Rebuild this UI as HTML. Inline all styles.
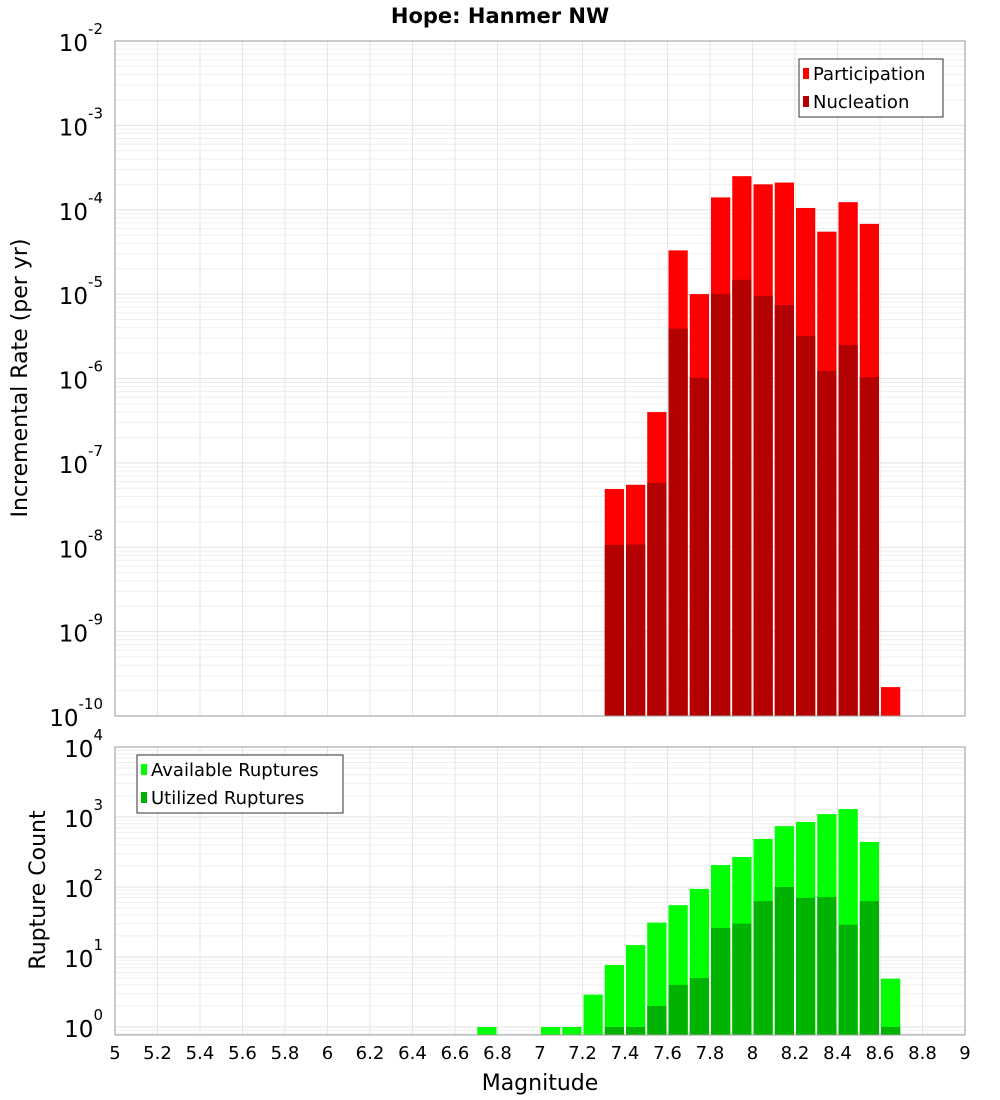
<!DOCTYPE html>
<html><head><meta charset="utf-8"><style>
html,body{margin:0;padding:0;background:#fff;}
svg{display:block;font-family:"DejaVu Sans","Liberation Sans",sans-serif;}
</style></head><body>
<svg id="chart" width="1000" height="1100" viewBox="0 0 1000 1100" xmlns="http://www.w3.org/2000/svg">
<text x="500" y="23" text-anchor="middle" font-size="21" font-weight="bold">Hope: Hanmer NW</text>
<g id="top"></g><g id="bot"></g>
<text transform="translate(27,378) rotate(-90)" text-anchor="middle" font-size="22">Incremental Rate (per yr)</text>
<text transform="translate(45,890) rotate(-90)" text-anchor="middle" font-size="22">Rupture Count</text>
<text x="540" y="1090" text-anchor="middle" font-size="22">Magnitude</text>
</svg>
<script>
const mags = [6.75,7.05,7.15,7.25,7.35,7.45,7.55,7.65,7.75,7.85,7.95,8.05,8.15,8.25,8.35,8.45,8.55,8.65];
const participation = [0,0,0,0,4.9e-8,5.5e-8,4.0e-7,3.3e-5,1.0e-5,1.4e-4,2.5e-4,2.0e-4,2.1e-4,1.05e-4,5.5e-5,1.23e-4,6.8e-5,2.2e-10];
const nucleation = [0,0,0,0,1.07e-8,1.08e-8,5.8e-8,3.9e-6,1.02e-6,1.0e-5,1.48e-5,9.5e-6,7.4e-6,3.2e-6,1.23e-6,2.5e-6,1.04e-6,0];
const available = [1,1,1,2.9,7.7,14.8,31,55,94,206,268,485,740,850,1100,1300,440,4.9];
const utilized = [0,0,0,0,1,1,2,4,5,26,30,63,100,70,72,29,63,1];
const xTicks = [5,5.2,5.4,5.6,5.8,6,6.2,6.4,6.6,6.8,7,7.2,7.4,7.6,7.8,8,8.2,8.4,8.6,8.8,9];
const topExp = [-2,-3,-4,-5,-6,-7,-8,-9,-10];
const botExp = [4,3,2,1,0];

const NS="http://www.w3.org/2000/svg";
const L=115,R=965;
const xs=m=>L+(m-5)*(R-L)/4;
const T1=41,B1=716, yTop=v=>T1+(-2-Math.log10(v))*(B1-T1)/8;
const T2=747,B2=1035, yBot=v=>T2+(4-Math.log10(v))*70;
function el(p,tag,a){const e=document.createElementNS(NS,tag);for(const k in a)e.setAttribute(k,a[k]);p.appendChild(e);return e;}
function panel(g,T,B,yf,lo,hi){
  el(g,'rect',{x:L,y:T,width:R-L,height:B-T,fill:'#fff'});
  for(let d=lo;d<hi;d++)for(let k=1;k<10;k++){const y=yf(k*Math.pow(10,d));if(y<T||y>B)continue;
    el(g,'line',{x1:L,x2:R,y1:y,y2:y,stroke:k==1?'#e2e2e2':'#efefef','stroke-width':1});}
  xTicks.forEach(t=>{const x=xs(t);el(g,'line',{x1:x,x2:x,y1:T,y2:B,stroke:'#e6e6e6','stroke-width':1});});
}
function frame(g,T,B){el(g,'rect',{x:L,y:T,width:R-L,height:B-T,fill:'none',stroke:'#999','stroke-width':1});}
function bar(g,m,v,yf,B,col,name){if(!(v>0))return;const y=Math.max(yf(v),0);
  const r=el(g,'rect',{x:xs(m-0.05)+1,y:y,width:xs(m+0.05)-xs(m-0.05)-2,height:B-y,fill:col});
  
  }
function ylab(g,e,y){const t=el(g,'text',{x:103,y:y+10,'text-anchor':'end','font-size':23});
  
  
  t.textContent='10';const s=el(t,'tspan',{dy:-17,'font-size':15});s.textContent=String(e);}
function legend(g,x,y,w,items){el(g,'rect',{x:x,y:y,width:w,height:58,fill:'#fff',stroke:'#333','stroke-width':1});
  items.forEach((it,i)=>{el(g,'rect',{x:x+4,y:y+9+i*28,width:6,height:11,fill:it[1]});
    const t=el(g,'text',{x:x+14,y:y+21+i*28,'font-size':18});
    
    
    t.textContent=it[0];});}

const gt=document.getElementById('top');
panel(gt,T1,B1,yTop,-10,-2);
mags.forEach((m,i)=>bar(gt,m,participation[i],yTop,B1,'#ff0000','participation-bar'));
mags.forEach((m,i)=>bar(gt,m,nucleation[i],yTop,B1,'#b30000','nucleation-bar'));
frame(gt,T1,B1);
topExp.forEach(e=>ylab(gt,e,yTop(Math.pow(10,e))));
legend(gt,799,59,144,[['Participation','#ff0000'],['Nucleation','#b30000']]);

const gb=document.getElementById('bot');
panel(gb,T2,B2,yBot,-1,4);
mags.forEach((m,i)=>bar(gb,m,available[i],yBot,B2,'#00ff00','available-bar'));
mags.forEach((m,i)=>bar(gb,m,utilized[i],yBot,B2,'#00b300','utilized-bar'));
frame(gb,T2,B2);
botExp.forEach(e=>ylab(gb,e,yBot(Math.pow(10,e))));
legend(gb,137,755,206,[['Available Ruptures','#00ff00'],['Utilized Ruptures','#00b300']]);
xTicks.forEach(t=>{const tx=el(gb,'text',{x:xs(t),y:1059,'text-anchor':'middle','font-size':18});
  
  
  tx.textContent=String(t);});
</script>
</body></html>
